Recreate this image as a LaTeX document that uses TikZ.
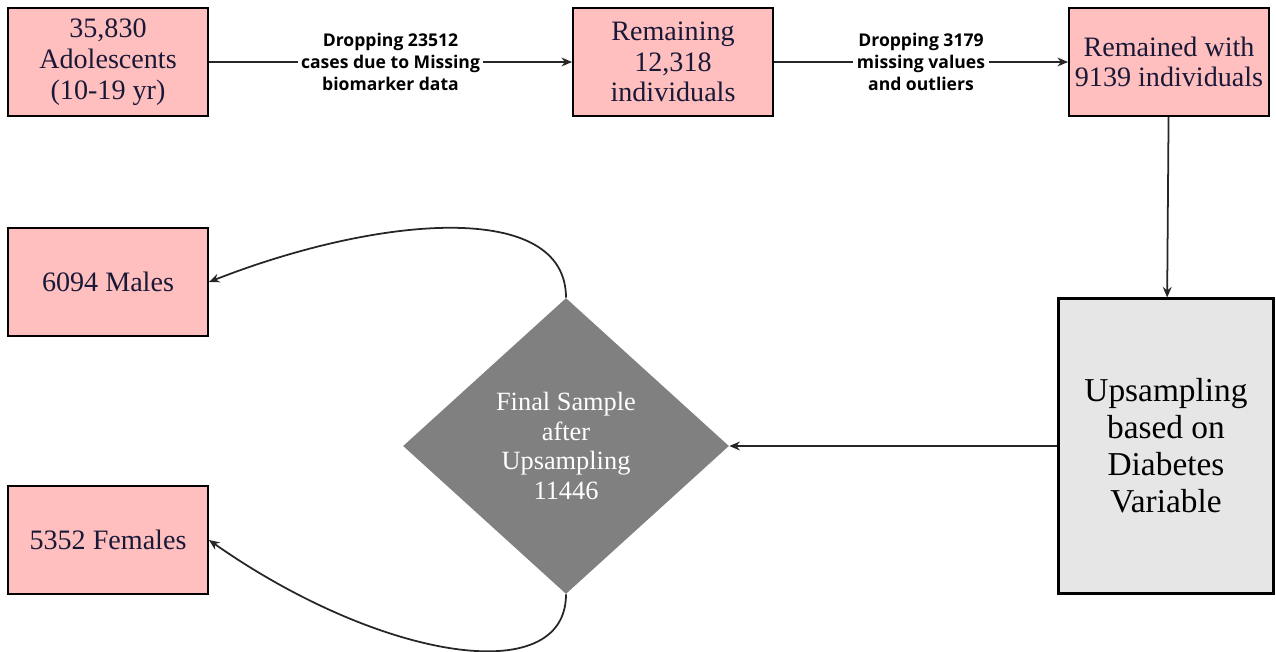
\documentclass[tikz,border=0pt]{standalone}
\usepackage{fontspec}
\setmainfont{Liberation Serif}
\newfontfamily\labelfont{Open Sans}
\usetikzlibrary{arrows.meta,shapes.geometric,positioning}
\definecolor{boxpink}{RGB}{255,191,191}
\definecolor{boxtext}{RGB}{25,25,55}
\definecolor{diagray}{RGB}{128,128,128}
\definecolor{cylgray}{RGB}{230,230,230}

\begin{document}
\begin{tikzpicture}[x=0.02cm,y=-0.02cm,
    box/.style = {draw, line width=1.1pt, fill=boxpink, text=boxtext, align=center,
                  minimum width=4cm, minimum height=2.16cm, inner sep=2pt,
                  font=\rmfamily\fontsize{16}{17.5}\selectfont},
    lbl/.style = {fill=white, align=center, inner sep=2pt,
                  font=\labelfont\bfseries\fontsize{10}{12.5}\selectfont},
    arr/.style = {-{Stealth[length=6pt,width=5pt]}, line width=1pt, draw=black!85},
    dia/.style = {diamond, fill=diagray, text=white, align=center, inner sep=0pt,
                  minimum width=6.52cm, minimum height=5.92cm,
                  font=\rmfamily\fontsize{15}{17}\selectfont},
    cyl/.style = {draw, line width=1.2pt, fill=cylgray, align=center,
                  minimum width=4.3cm, minimum height=5.9cm,
                  font=\rmfamily\fontsize{19}{21}\selectfont}]
    \useasboundingbox (0,0) rectangle (1276,652);
    % top row
    \node[box] (start) at (108,62) {35,830\\Adolescents\\(10-19 yr)};
    \node[box] (remain) at (673,62) {Remaining\\12,318\\individuals};
    \node[box] (final) at (1169,62) {Remained with\\9139 individuals};
    % middle
    \node[cyl] (upsamp) at (1166,446) {Upsampling\\based on\\Diabetes\\Variable};
    \node[dia] (sample) at (566,446) {Final Sample\\after\\Upsampling\\11446};
    % outputs
    \node[box] (males) at (108,282) {6094 Males};
    \node[box] (females) at (108,540) {5352 Females};

    \draw[arr] (start) -- node[lbl] (drop1) {Dropping 23512\\cases due to Missing\\biomarker data} (remain);
    \draw[arr] (remain) -- node[lbl] (drop2) {Dropping 3179\\missing values\\and outliers} (final);
    \draw[arr] (final) -- (upsamp);
    \draw[arr] (upsamp) -- (sample);
    \draw[arr] (sample.north) .. controls (566,200) and (380,215) .. (males.east);
    \draw[arr] (sample.south) .. controls (566,690) and (380,660) .. (females.east);
\end{tikzpicture}
\end{document}
